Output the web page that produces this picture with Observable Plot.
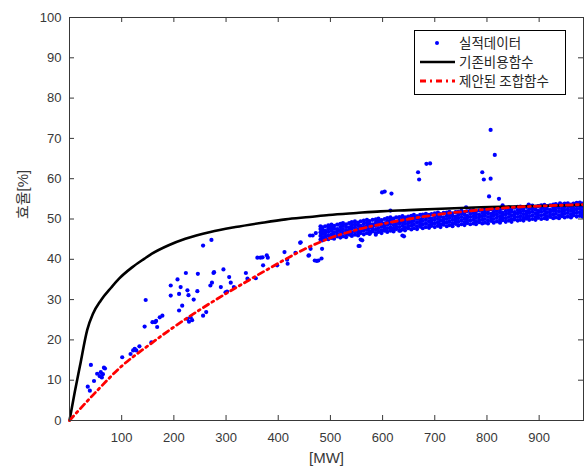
<!DOCTYPE html>
<html>
<head>
<meta charset="utf-8">
<script src="https://cdn.jsdelivr.net/npm/d3@7"></script>
<script src="https://cdn.jsdelivr.net/npm/@observablehq/plot@0.6"></script>
<style>
  html, body { margin: 0; padding: 0; background: #fff; }
  #wrap { position: relative; width: 584px; height: 474px; }
  #legend { position: absolute; left: 0; top: 0; pointer-events: none; }
</style>
</head>
<body>
<div id="wrap"></div>
<script>
// ---- tick labels ----
const xTicks = [100, 200, 300, 400, 500, 600, 700, 800, 900];
const yTicks = [0, 10, 20, 30, 40, 50, 60, 70, 80, 90, 100];
const xTitle = "[MW]";
const yTitle = "효율[%]";
const seriesNames = ["실적데이터", "기존비용함수", "제안된 조합함수"];

// ---- 기존비용함수 (black) ----
const baseX = [0, 10, 20, 34, 45, 60, 80, 95, 120, 143, 158, 190, 222, 270, 318, 366, 414, 460, 497, 550, 596, 650, 700, 788, 850, 920, 985];
const baseY = [0, 7, 13.5, 22.5, 26.5, 29.8, 33, 35.2, 38, 40.1, 41.4, 43.5, 45.1, 46.8, 48.0, 49.0, 49.9, 50.5, 51.0, 51.5, 51.9, 52.2, 52.5, 52.9, 53.1, 53.3, 53.5];

// ---- 제안된 조합함수 (red dash-dot) ----
const propX = [0, 50, 100, 150, 200, 250, 300, 350, 400, 450, 500, 550, 600, 650, 700, 750, 800, 850, 900, 985];
const propY = [0, 7, 13.5, 18.5, 23.2, 27.5, 31.5, 35.3, 39, 42.5, 45.3, 47.3, 48.8, 50, 51, 51.8, 52.4, 52.9, 53.2, 53.6];

// ---- 실적데이터: scattered points ----
const scatterSparse = [
  [35,8.4],[39,7.4],[41,13.8],[47,9.8],[53,11.6],[58,11.0],[60,12.0],[62,10.7],[66,13.1],[68,12.9],[64,11.5],
  [101,15.7],[117,16.5],[122,17.4],[125,17.8],[128,17.4],[134,18.4],[157,19.4],[144,23.3],[146,29.9],[159,24.4],
  [164,24.4],[168,23.2],[166,24.7],[173,25.6],[178,26.0],
  [194,33.5],[207,35.0],[194,31.0],[210,31.4],[213,33.1],[216,28.5],[210,27.3],[223,36.6],[226,32.3],[228,31.1],
  [226,25.2],[232,25.6],[229,24.5],[235,24.9],[238,30.0],[245,32.1],[246,36.4],[256,26.0],[262,26.9],[256,43.4],
  [272,44.8],[270,33.5],[273,34.2],[276,36.6],[277,36.8],[295,37.5],[290,33.1],[299,31.8],[302,32.0],[309,34.2],
  [306,35.6],[315,33.1],[338,36.6],[341,35.2],[357,35.3],[360,40.4],[366,40.4],[370,40.5],[378,41.0],[380,40.4],
  [371,38.5],[398,38.5],[412,41.8],[417,39.9],[418,38.9],[433,41.6],[442,44.1],[443,44.2],[459,41.0],[458,40.9],
  [461,45.9],[462,42.6],[466,45.9],[472,46.5],[470,39.7],[474,39.6],[477,39.7],[483,40.2],[484,42.6],
  [554,43.3],[556,43.3],[558,44.9],[561,44.7],[576,46.5],[587,46.1],[616,47.6],[634,47.1],[638,45.9],[641,45.7],
  [599,56.6],[604,56.8],[617,56.3],[668,61.6],[670,59.8],[684,63.7],[691,63.8],[791,61.6],[794,59.8],[807,60.0],
  [807,72.1],[815,65.9],[804,55.6],[823,55.0],
  [615,52.1],[760,52.9],[830,53.4],[880,53.6],[940,53.9]
];

// ---- 실적데이터: dense band, each row = [x, y values...] ----
const bandColumns = [
  [481,44.9,45.8,46.7,47.5,48.2],[485,45.4,46.3,47.2,47.9,44.7],[490,45.3,46.6,47.1,48.2,45.9],[496,45.0,45.9,46.8,47.6,48.4],
  [502,45.3,46.2,47.1,47.9,48.6],[507,45.8,46.7,47.6,48.3,45.1],[513,45.7,47.0,47.5,48.6,46.3],[519,45.4,46.3,47.2,48.0,48.8],
  [524,45.7,46.6,47.5,48.3,49.0],[530,46.2,47.1,48.0,48.7,45.5],[536,46.1,47.4,47.9,49.0,46.7],[541,45.8,46.7,47.6,48.4,49.2],
  [547,46.1,47.0,47.9,48.7,49.4],[553,46.6,47.5,48.4,49.1,45.9],[558,46.5,47.8,48.3,49.4,47.1],[564,46.2,47.1,48.0,48.8,49.6],
  [570,46.5,47.4,48.3,49.1,49.8],[575,47.0,47.9,48.8,49.5,46.3],[581,46.9,48.2,48.7,49.8,47.5],[587,46.5,47.4,48.3,49.1,49.9],
  [592,46.8,47.7,48.6,49.4,50.1],[598,47.2,48.1,49.0,49.7,46.5],[604,47.1,48.4,48.9,50.0,47.7],[609,46.8,47.7,48.6,49.4,50.2],
  [615,47.1,48.0,48.9,49.7,50.4],[621,47.6,48.5,49.4,50.1,46.9],[626,47.5,48.8,49.3,50.4,48.1],[632,47.1,48.0,48.9,49.7,50.5],
  [638,47.4,48.3,49.2,50.0,50.7],[643,47.9,48.8,49.7,50.4,47.2],[649,47.7,49.0,49.5,50.6,48.3],[655,47.4,48.3,49.2,50.0,50.8],
  [660,47.7,48.6,49.5,50.3,51.0],[666,48.2,49.1,50.0,50.7,47.5],[672,48.1,49.4,49.9,51.0,48.7],[677,47.7,48.6,49.5,50.3,51.1],
  [683,48.0,48.9,49.8,50.6,51.3],[689,48.5,49.4,50.3,51.0,47.8],[694,48.3,49.6,50.1,51.2,48.9],[700,48.0,48.9,49.8,50.6,51.4],
  [706,48.3,49.2,50.1,50.9,51.6],[711,48.7,49.6,50.5,51.2,48.0],[717,48.6,49.9,50.4,51.5,49.2],[723,48.2,49.1,50.0,50.8,51.6],
  [728,48.5,49.4,50.3,51.1,51.8],[734,48.9,49.8,50.7,51.4,48.2],[740,48.8,50.1,50.6,51.7,49.4],[745,48.4,49.3,50.2,51.0,51.8],
  [751,48.7,49.6,50.5,51.3,52.0],[757,49.2,50.1,51.0,51.7,48.5],[762,49.0,50.3,50.8,51.9,49.6],[768,48.7,49.6,50.5,51.3,52.1],
  [774,48.9,49.8,50.7,51.5,52.2],[779,49.4,50.3,51.2,51.9,48.7],[785,49.2,50.5,51.0,52.1,49.8],[791,48.9,49.8,50.7,51.5,52.3],
  [796,49.1,50.0,50.9,51.7,52.4],[802,49.6,50.5,51.4,52.1,48.9],[808,49.5,50.8,51.3,52.4,50.1],[813,49.1,50.0,50.9,51.7,52.5],
  [819,49.4,50.3,51.2,52.0,52.7],[825,49.8,50.7,51.6,52.3,49.1],[830,49.7,51.0,51.5,52.6,50.3],[836,49.3,50.2,51.1,51.9,52.7],
  [842,49.6,50.5,51.4,52.2,52.9],[847,50.0,50.9,51.8,52.5,49.3],[853,49.9,51.2,51.7,52.8,50.5],[859,49.6,50.5,51.4,52.2,53.0],
  [864,49.8,50.7,51.6,52.4,53.1],[870,50.3,51.2,52.1,52.8,49.6],[876,50.1,51.4,51.9,53.0,50.7],[881,49.8,50.7,51.6,52.4,53.2],
  [887,50.0,50.9,51.8,52.6,53.3],[893,50.5,51.4,52.3,53.0,49.8],[898,50.3,51.6,52.1,53.2,50.9],[904,50.0,50.9,51.8,52.6,53.4],
  [910,50.2,51.1,52.0,52.8,53.5],[915,50.7,51.6,52.5,53.2,50.0],[921,50.5,51.8,52.3,53.4,51.1],[927,50.2,51.1,52.0,52.8,53.6],
  [932,50.4,51.3,52.2,53.0,53.7],[938,50.9,51.8,52.7,53.4,50.2],[944,50.7,52.0,52.5,53.6,51.3],[949,50.4,51.3,52.2,53.0,53.8],
  [955,50.6,51.5,52.4,53.2,53.9],[961,51.1,52.0,52.9,53.6,50.4],[966,50.9,52.2,52.7,53.8,51.5],[972,50.6,51.5,52.4,53.2,54.0],
  [978,50.8,51.7,52.6,53.4,54.1],[983,51.3,52.2,53.1,53.8,50.6]
];

// ---- build tables for the library ----
const points = scatterSparse.map(([x, y]) => ({x, y}));
for (const [x, ...ys] of bandColumns) for (const y of ys) points.push({x, y});
const baseLine = baseX.map((x, i) => ({x, y: baseY[i]}));
const propLine = propX.map((x, i) => ({x, y: propY[i]}));

const W = 584, H = 474, mL = 69, mR = 1, mT = 17, mB = 54;
const innerW = W - mL - mR, innerH = H - mT - mB;
const axisColor = "#383838";
const dash = "6,4,2,4";

const chart = Plot.plot({
  width: W, height: H,
  marginLeft: mL, marginRight: mR, marginTop: mT, marginBottom: mB,
  x: {domain: [0, 985]},
  y: {domain: [0, 100]},
  style: {fontFamily: "'Liberation Sans', Arial, 'Noto Sans CJK KR', sans-serif", fontSize: "13px", color: axisColor, background: "#fff"},
  marks: [
    Plot.dot(points, {x: "x", y: "y", r: 2.1, fill: "#0000ff", stroke: "none"}),
    Plot.line(baseLine, {x: "x", y: "y", stroke: "#000", strokeWidth: 2.6, curve: "monotone-x"}),
    Plot.line(propLine, {x: "x", y: "y", stroke: "#ff0000", strokeWidth: 2.8, strokeDasharray: dash, curve: "monotone-x"}),
    Plot.frame({stroke: axisColor, strokeWidth: 1}),
    Plot.tickX(xTicks, {x: d => d, insetTop: innerH - 5, stroke: axisColor}),
    Plot.tickX(xTicks, {x: d => d, insetBottom: innerH - 5, stroke: axisColor}),
    Plot.tickY(yTicks, {y: d => d, insetRight: innerW - 5, stroke: axisColor}),
    Plot.tickY(yTicks, {y: d => d, insetLeft: innerW - 5, stroke: axisColor}),
    Plot.axisX(xTicks, {tickSize: 0, tickPadding: 12, label: null, fontSize: 13}),
    Plot.axisY(yTicks, {tickSize: 0, tickPadding: 8, label: null, fontSize: 13}),
    Plot.text([xTitle], {text: d => d, frameAnchor: "bottom", dy: 42, fontSize: 15, fill: axisColor}),
    Plot.text([yTitle], {text: d => d, frameAnchor: "left", dx: -46, rotate: -90, fontSize: 15, fill: axisColor})
  ]
});

const wrap = document.getElementById("wrap");
wrap.appendChild(chart);

// ---- legend overlay ----
const ns = "http://www.w3.org/2000/svg";
const lg = document.createElementNS(ns, "svg");
lg.setAttribute("id", "legend");
lg.setAttribute("width", W);
lg.setAttribute("height", H);
const box = {x: 414.5, y: 30.5, w: 151, h: 64};
let html = `<rect x="${box.x}" y="${box.y}" width="${box.w}" height="${box.h}" fill="#fff" stroke="#000" stroke-width="1"/>`;
const rows = [43, 62, 81];
html += `<circle cx="437" cy="${rows[0]}" r="2" fill="#0000ff"/>`;
html += `<line x1="420" x2="455" y1="${rows[1]}" y2="${rows[1]}" stroke="#000" stroke-width="2.6"/>`;
html += `<line x1="420" x2="455" y1="${rows[2]}" y2="${rows[2]}" stroke="#ff0000" stroke-width="2.8" stroke-dasharray="${dash}"/>`;
seriesNames.forEach((s, i) => {
  html += `<text x="459" y="${rows[i]}" dy="0.35em" font-family="'Noto Sans CJK KR', sans-serif" font-size="13.5" fill="#262626">${s}</text>`;
});
lg.innerHTML = html;
wrap.appendChild(lg);
</script>
</body>
</html>
